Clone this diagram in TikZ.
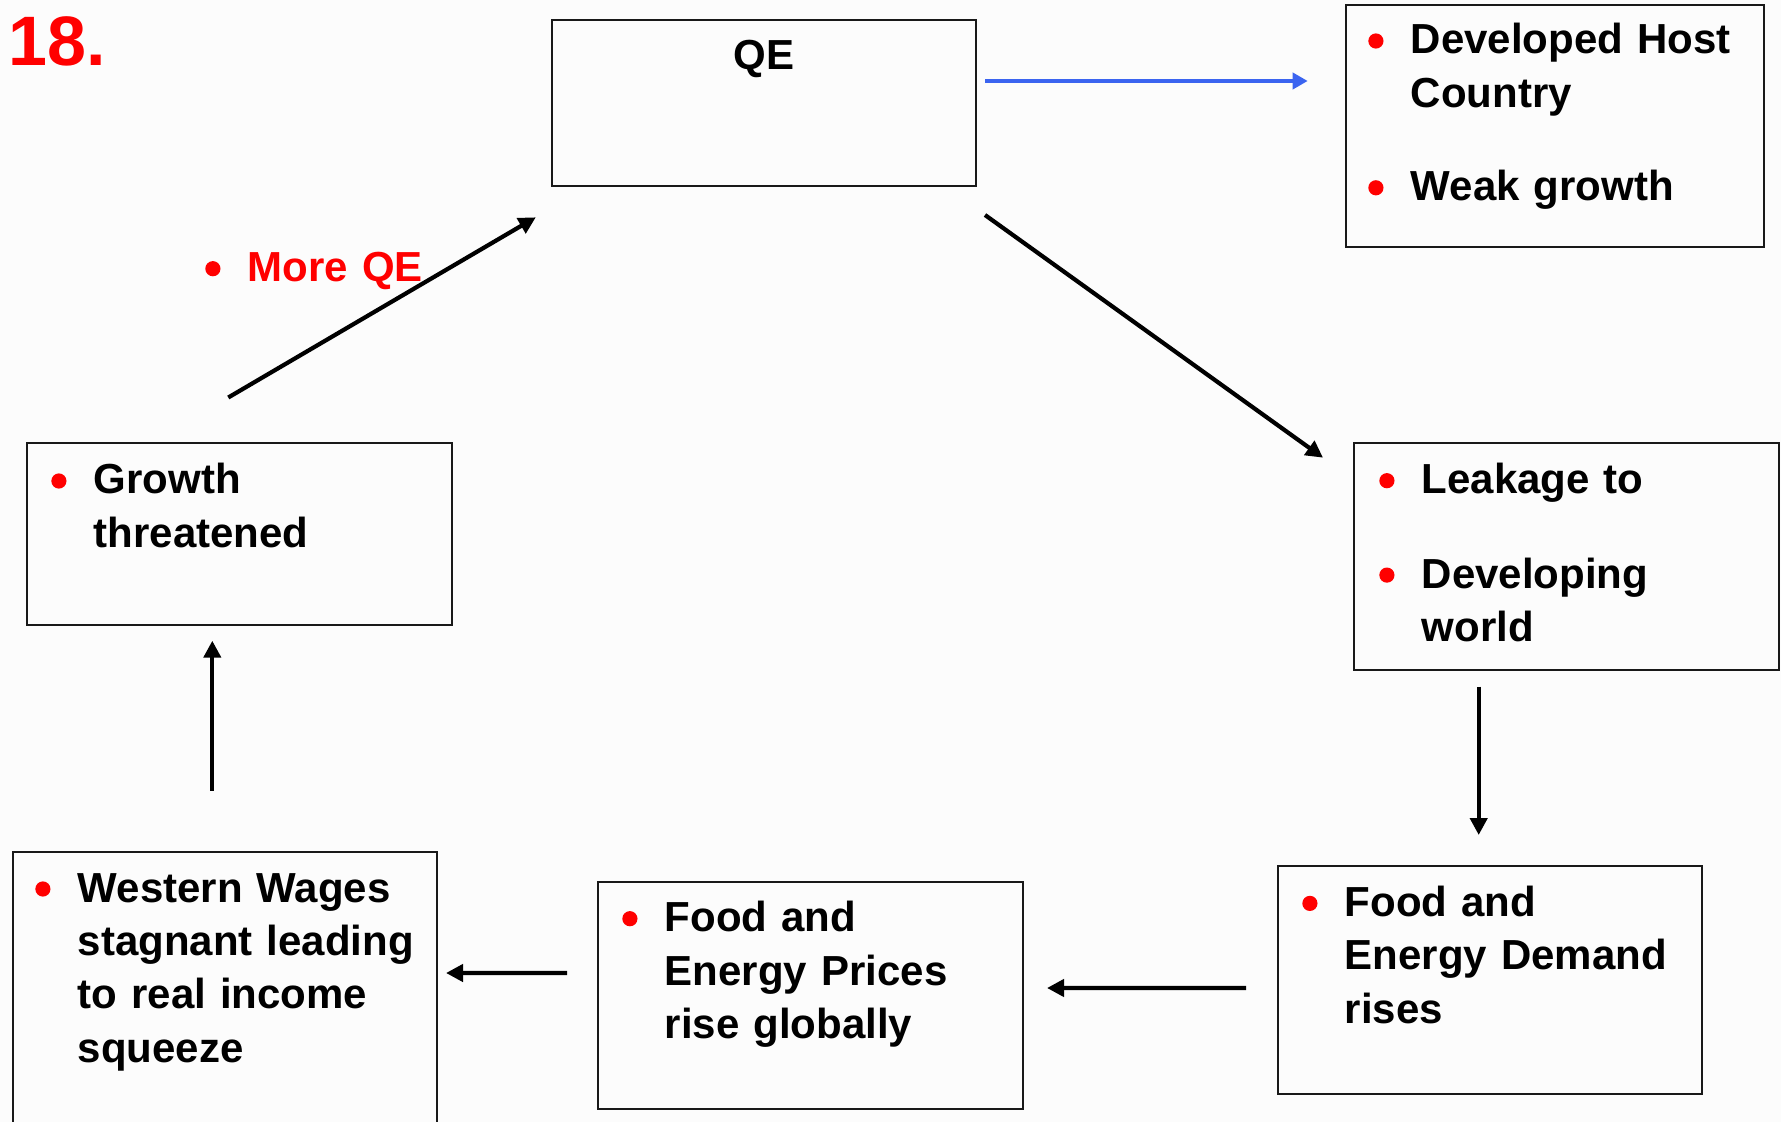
\documentclass[tikz,border=0pt]{standalone}
\usepackage{fontspec}
\setmainfont{Liberation Sans}
\usetikzlibrary{arrows.meta,calc}
\definecolor{bred}{RGB}{255,0,0}
\definecolor{qblue}{RGB}{59,100,240}
\definecolor{bg}{RGB}{252,252,252}
\newcommand{\bul}{\leavevmode\llap{\tikz[baseline=-6.5pt]\fill[bred] (0pt,0pt) circle (3.8pt);\hspace{13.7pt}}}
\begin{document}
\begin{tikzpicture}[x=0.5pt,y=-0.5pt,
  box/.style={draw=black!90,line width=1pt,inner sep=0pt,outer sep=0pt,anchor=north west},
  txt/.style={anchor=base west,inner sep=0pt,text width=200pt,align=left,font=\fontsize{21}{26.7}\selectfont\bfseries},
  arr/.style={line width=2.1pt,-{Triangle[length=8.5pt,width=8.5pt]}},
  barr/.style={line width=2.3pt,draw=qblue,-{Triangle[length=7.5pt,width=8pt]}}]
\fill[bg] (0,0) rectangle (1781,1122);
\useasboundingbox (0,0) rectangle (1781,1122);
\clip (0,0) rectangle (1781,1122);

\node[anchor=base west,inner sep=0pt,text=bred,font=\fontsize{35}{40}\selectfont\bfseries] (num) at (8,65.7) {18.};

% boxes
\node[box,minimum width={423.5*0.5pt},minimum height={166.5*0.5pt}] (qe) at (552,20) {};
\node[box,minimum width={418*0.5pt},minimum height={242*0.5pt}] (tr) at (1345.7,5.5) {};
\node[box,minimum width={424.4*0.5pt},minimum height={181.7*0.5pt}] (g) at (27.3,443.3) {};
\node[box,minimum width={424.7*0.5pt},minimum height={226.8*0.5pt}] (l) at (1354.3,443.2) {};
\node[box,minimum width={423.6*0.5pt},minimum height={227.6*0.5pt}] (d) at (1278,866.4) {};
\node[box,minimum width={424.5*0.5pt},minimum height={227*0.5pt}] (p) at (598,881.7) {};
\node[box,minimum width={423.9*0.5pt},minimum height={290*0.5pt}] (w) at (12.6,851.7) {};

% texts
\node[font=\fontsize{21}{26.7}\selectfont\bfseries,anchor=base,inner sep=0pt] (qet) at (764,70) {QE};
\node[txt] (trt) at (1410.5,54) {\bul Developed Host\\Country\\[20pt]\bul Weak growth};
\node[txt] (gt) at (93.5,494) {\bul Growth\\threatened};
\node[txt] (lt) at (1421.5,493.7) {\bul Leakage to\\[20.5pt]\bul Developing\\world};
\node[txt] (dt) at (1344.5,916.4) {\bul Food and\\Energy Demand\\rises};
\node[txt] (pt) at (664.5,931.7) {\bul Food and\\Energy Prices\\rise globally};
\node[txt] (wt) at (77.5,902) {\bul Western Wages\\stagnant leading\\to real income\\squeeze};
\node[txt,text=bred] (mqe) at (247.5,281.7) {\bul More QE};

% connectors
\draw[barr] ($(qe.north east)+(9.5,61)$) -- ($(tr.north west)+(-38,75.5)$);
\draw[arr] ($(qe.south east)+(9.5,28.5)$) -- ($(l.north west)+(-31.3,14.5)$);
\draw[arr] ($(l.south west)+(124.4,16.5)$) -- ($(d.north west)+(200.7,-31.4)$);
\draw[arr] ($(d.south west)+(-32,-106)$) -- ($(p.south east)+(24.5,-120.7)$);
\draw[arr] ($(p.south west)+(-31,-135.7)$) -- ($(w.north east)+(9.5,121.3)$);
\draw[arr] ($(w.north west)+(199.7,-61)$) -- ($(g.south west)+(185,15.7)$);
\draw[arr] ($(g.north west)+(201,-45.8)$) -- ($(qe.south west)+(-16.2,30.8)$);
\end{tikzpicture}
\end{document}
